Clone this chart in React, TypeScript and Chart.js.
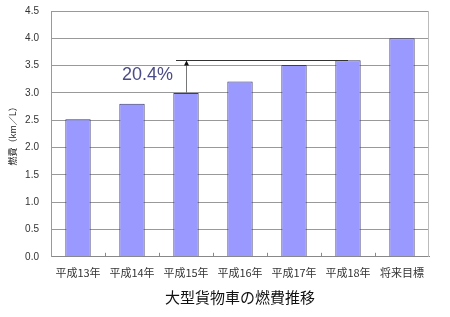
import React, { useEffect, useRef } from "react";
import { Chart, registerables } from "chart.js";

Chart.register(...registerables);

const categories = ["平成13年", "平成14年", "平成15年", "平成16年", "平成17年", "平成18年", "将来目標"];
const fuelEconomy = [2.52, 2.8, 3.0, 3.21, 3.51, 3.6, 4.0];
const yTicks = [0, 0.5, 1.0, 1.5, 2.0, 2.5, 3.0, 3.5, 4.0, 4.5];
const annotationText = "20.4%";
const annotationFromIndex = 2;
const annotationToIndex = 5;
const annotationValue = 3.61;

const FONT = "'Noto Sans CJK JP', 'Liberation Sans', sans-serif";

const annotationPlugin = {
  id: "improvementArrow",
  afterDatasetsDraw(chart: any) {
    const { ctx, scales } = chart;
    const x = scales.x;
    const y = scales.y;
    const ax = x.getPixelForValue(annotationFromIndex);
    const bx = x.getPixelForValue(annotationToIndex);
    const yTop = y.getPixelForValue(annotationValue);
    const yBase = y.getPixelForValue(fuelEconomy[annotationFromIndex]);
    ctx.save();
    ctx.strokeStyle = "#333";
    ctx.lineWidth = 1;
    ctx.beginPath();
    ctx.moveTo(ax - 10, Math.round(yTop) + 0.5);
    ctx.lineTo(bx, Math.round(yTop) + 0.5);
    ctx.stroke();
    ctx.strokeStyle = "#777";
    ctx.beginPath();
    ctx.moveTo(Math.round(ax) + 0.5, yBase);
    ctx.lineTo(Math.round(ax) + 0.5, yTop + 4);
    ctx.stroke();
    ctx.fillStyle = "#111";
    ctx.beginPath();
    ctx.moveTo(Math.round(ax) + 0.5, yTop + 1);
    ctx.lineTo(Math.round(ax) - 2, yTop + 6);
    ctx.lineTo(Math.round(ax) + 3, yTop + 6);
    ctx.closePath();
    ctx.fill();
    ctx.fillStyle = "#4b4b86";
    ctx.font = `18px 'Liberation Sans', Arial, sans-serif`;
    ctx.textAlign = "right";
    ctx.textBaseline = "middle";
    ctx.fillText(annotationText, ax - 13, (yTop + yBase) / 2 - 1);
    ctx.strokeStyle = "#888";
    const bottom = chart.chartArea.bottom;
    for (let i = 1; i < categories.length; i++) {
      const px = Math.round((x.getPixelForValue(i - 1) + x.getPixelForValue(i)) / 2) + 0.5;
      ctx.beginPath();
      ctx.moveTo(px, bottom);
      ctx.lineTo(px, bottom - 4);
      ctx.stroke();
    }
    ctx.restore();
  },
};

export default function App() {
  const ref = useRef<HTMLCanvasElement | null>(null);
  useEffect(() => {
    if (!ref.current) return;
    const chart = new Chart(ref.current, {
      type: "bar",
      data: {
        labels: categories,
        datasets: [
          {
            data: fuelEconomy,
            backgroundColor: "#9999ff",
            borderColor: "#3b3b6e",
            borderWidth: 1,
            barPercentage: 0.47,
            categoryPercentage: 1,
          },
        ],
      },
      options: {
        animation: false,
        responsive: false,
        maintainAspectRatio: false,
        layout: { padding: { left: 7, right: 21, top: 11, bottom: 11 } },
        plugins: {
          legend: { display: false },
          tooltip: { enabled: false },
        },
        scales: {
          x: {
            grid: { display: false, drawTicks: false },
            border: { display: true, color: "#888", width: 1 },
            ticks: {
              padding: 9,
              color: "#333",
              font: { family: FONT, size: 11 },
            },
            title: {
              display: true,
              text: "大型貨物車の燃費推移",
              color: "#111",
              font: { family: FONT, size: 15 },
              padding: { top: 0, bottom: 0 },
            },
          },
          y: {
            min: 0,
            max: 4.5,
            afterBuildTicks: (axis: any) => {
              axis.ticks = yTicks.map((v) => ({ value: v }));
            },
            afterFit: (axis: any) => {
              axis.width = 44;
              axis.paddingTop = 0;
              axis.paddingBottom = 0;
            },
            grid: { color: "#999", lineWidth: 1, drawTicks: false },
            border: { display: true, color: "#999", width: 1 },
            ticks: {
              padding: 12,
              color: "#333",
              font: { family: "'Liberation Sans', Arial, sans-serif", size: 10 },
              callback: (v: any) => Number(v).toFixed(1),
            },
            title: {
              display: true,
              text: "燃費（km／L）",
              color: "#222",
              font: { family: FONT, size: 9 },
              padding: { top: 0, bottom: 8 },
            },
          },
        },
      },
      plugins: [
        annotationPlugin,
        {
          id: "rightBorder",
          afterDraw(chart: any) {
            const { ctx, chartArea } = chart;
            ctx.save();
            ctx.strokeStyle = "#bbb";
            ctx.lineWidth = 1;
            ctx.beginPath();
            ctx.moveTo(Math.round(chartArea.right) - 0.5, chartArea.top);
            ctx.lineTo(Math.round(chartArea.right) - 0.5, chartArea.bottom);
            ctx.stroke();
            ctx.restore();
          },
        },
      ],
    });
    return () => chart.destroy();
  }, []);
  return (
    <div style={{ position: "fixed", left: 0, top: 0, width: 450, height: 317, background: "#fff" }}>
      <canvas ref={ref} width={450} height={317} style={{ width: 450, height: 317 }} />
    </div>
  );
}
